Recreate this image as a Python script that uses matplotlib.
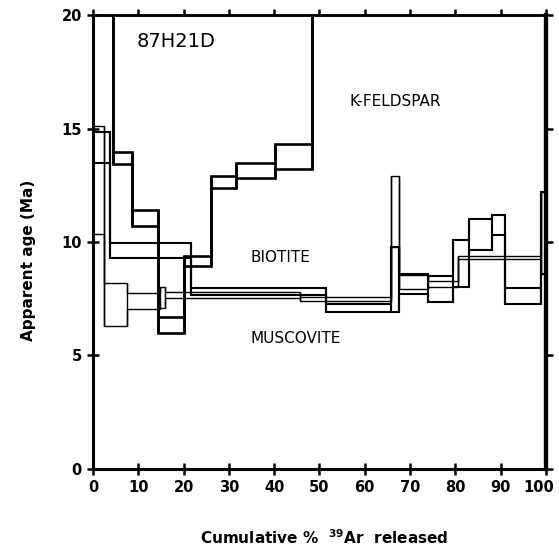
import matplotlib.pyplot as plt
import matplotlib.transforms as mtransforms
import numpy as np

plt.rcParams['font.family'] = 'DejaVu Sans'
plt.rcParams['mathtext.default'] = 'bf'

# step edges (cumulative % 39Ar) and age bounds (Ma) for each mineral
kfs_edges = [0, 4.4, 8.6, 14.3, 20.1, 26.1, 31.6, 40.2, 48.3, 100]
kfs_lo = [29.0, 13.44, 10.7, 6.0, 8.94, 12.4, 12.8, 13.2, 29.0]
kfs_hi = [31.0, 13.96, 11.4, 6.7, 9.38, 12.9, 13.5, 14.3, 31.0]

bt_edges = [0, 3.7, 21.6, 51.4, 65.8, 67.6, 73.9, 79.5, 83.0, 88.0, 91.0, 99.0, 100]
bt_lo = [13.5, 9.3, 7.65, 6.93, 6.93, 7.7, 7.35, 8.0, 9.65, 10.3, 7.27, 8.6]
bt_hi = [14.85, 9.95, 7.96, 7.27, 9.8, 8.6, 8.5, 10.1, 11.0, 11.2, 7.98, 12.2]

ms_edges = [0, 2.4, 7.4, 14.7, 15.9, 45.7, 65.8, 67.6, 73.9, 80.6, 99.0, 100]
ms_lo = [10.35, 6.3, 7.05, 7.1, 7.53, 7.42, 9.8, 7.95, 8.0, 9.25, 8.6]
ms_hi = [15.1, 8.2, 7.75, 8.0, 7.81, 7.58, 12.9, 8.55, 8.3, 9.4, 12.2]


def draw_spectrum(ax, edges, lo, hi, lw):
    edges = np.array(edges, dtype=float)
    lo = np.array(lo, dtype=float)
    hi = np.array(hi, dtype=float)
    ax.stairs(hi, edges, baseline=None, color="black", lw=lw)
    ax.stairs(lo, edges, baseline=None, color="black", lw=lw)
    # verticals at every edge, spanning both neighbouring boxes
    ylo = np.minimum(np.r_[lo[0], lo], np.r_[lo, lo[-1]])
    yhi = np.maximum(np.r_[hi[0], hi], np.r_[hi, hi[-1]])
    ax.vlines(edges, ylo, yhi, color="black", lw=lw)


fig = plt.figure(figsize=(5.59, 5.52), dpi=100)
ax = fig.add_axes([0.1664, 0.1504, 0.8103, 0.8224])

draw_spectrum(ax, kfs_edges, kfs_lo, kfs_hi, 1.9)
draw_spectrum(ax, bt_edges, bt_lo, bt_hi, 1.5)
draw_spectrum(ax, ms_edges, ms_lo, ms_hi, 1.0)

ax.set_xlim(0, 100)
ax.set_ylim(0, 20)

ax.text(18.3, 18.85, "87H21D", fontsize=14, ha="center", va="center")
ax.text(66.7, 16.2, "K-FELDSPAR", fontsize=11, ha="center", va="center")
ax.text(41.3, 9.3, "BIOTITE", fontsize=11, ha="center", va="center")
ax.text(44.8, 5.77, "MUSCOVITE", fontsize=11, ha="center", va="center")

for side, w in [("left", 2.2), ("bottom", 2.2), ("top", 1.8), ("right", 3.0)]:
    ax.spines[side].set_linewidth(w)

ax.set_xticks(np.arange(0, 101, 10))
ax.set_yticks(np.arange(0, 21, 5))
ax.tick_params(axis="both", direction="inout", length=9, width=1.8,
               labelsize=10.5)
for lab in ax.get_xticklabels() + ax.get_yticklabels():
    lab.set_fontweight("bold")

# outward-only ticks on the top and right frame
top = ax.secondary_xaxis("top")
top.set_xticks(np.arange(0, 101, 10))
top.tick_params(direction="out", length=4, width=1.8, labeltop=False)
top.spines["top"].set_linewidth(1.8)
right = ax.secondary_yaxis("right")
right.set_yticks(np.arange(0, 21, 5))
right.tick_params(direction="out", length=5, width=1.8, labelright=False)
right.spines["right"].set_linewidth(3.0)

ax.set_ylabel("Apparent age (Ma)", fontsize=11, fontweight="bold")
ax.yaxis.set_label_coords(-0.125, 0.46)
ax.set_xlabel(r"Cumulative %  $^{39}$Ar  released", fontsize=11,
              fontweight="bold")
ax.xaxis.set_label_coords(0.51, -0.13)

# nudge the "100" label left so it stays inside the figure
fig.canvas.draw()
last = ax.xaxis.get_major_ticks()[-1].label1
last.set_transform(last.get_transform() +
                   mtransforms.ScaledTranslation(-5 / 72, 0, fig.dpi_scale_trans))

fig.savefig("out.png", dpi=100)
